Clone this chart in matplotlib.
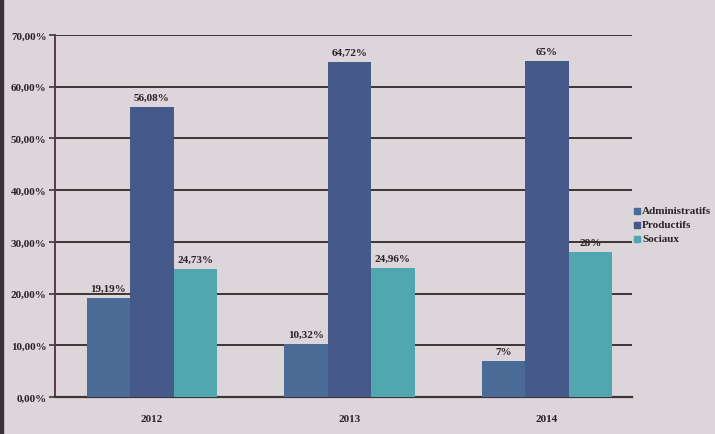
import numpy as np
import matplotlib
matplotlib.use('Agg')
import matplotlib.pyplot as plt
from matplotlib.patches import Rectangle

annees = ['2012', '2013', '2014']
series = ['Administratifs', 'Productifs', 'Sociaux']
administratifs = [19.19, 10.32, 7.0]
productifs = [56.08, 64.72, 65.0]
sociaux = [24.73, 24.96, 28.0]
etiquettes = [
    ['19,19%', '10,32%', '7%'],
    ['56,08%', '64,72%', '65%'],
    ['24,73%', '24,96%', '28%'],
]
yticks = [0, 10, 20, 30, 40, 50, 60, 70]
yticklabels = ['0,00%', '10,00%', '20,00%', '30,00%', '40,00%', '50,00%', '60,00%', '70,00%']

couleurs = ['#4b6b97', '#45598b', '#50a7b0']
fond = '#dcd5da'
trait = '#3e3438'
texte = '#2a2226'

plt.rcParams['font.family'] = ['Liberation Serif', 'DejaVu Serif']

fig = plt.figure(figsize=(7.15, 4.35), dpi=100)
fig.patch.set_facecolor(fond)
ax = fig.add_axes([55 / 715, 1 - 398 / 435, (632 - 55) / 715, (398 - 36) / 435])
ax.set_facecolor(fond)

x = np.arange(len(annees))
larg = 0.22
valeurs = [administratifs, productifs, sociaux]
for i, (vals, c) in enumerate(zip(valeurs, couleurs)):
    pos = x + (i - 1) * larg
    ax.bar(pos, vals, width=larg, color=c, label=series[i], zorder=3)
    for p, v, t in zip(pos, vals, etiquettes[i]):
        ax.text(p, v + 1.0, t, ha='center', va='bottom', fontsize=8,
                fontweight='bold', color=texte, zorder=4)

ax.set_xlim(-0.49, 2.43)
ax.set_ylim(0, 70)
ax.set_yticks(yticks)
ax.set_yticklabels(yticklabels, fontsize=8, fontweight='bold', color=texte)
ax.set_xticks(x)
ax.set_xticklabels(annees, fontsize=8, fontweight='bold', color=texte)
ax.tick_params(axis='x', length=0, pad=12)
ax.tick_params(axis='y', length=4, width=1.2, color=trait, pad=2)
ax.grid(axis='y', color=trait, linewidth=1.4, zorder=1)
for s in ['top', 'right']:
    ax.spines[s].set_visible(False)
ax.spines['left'].set_color('#5a3a48')
ax.spines['left'].set_linewidth(1.4)
ax.spines['bottom'].set_color(trait)
ax.spines['bottom'].set_linewidth(1.6)

# legende a droite
yl = [212, 226, 240]
for nom, c, yy in zip(series, couleurs, yl):
    fig.patches.append(Rectangle((634 / 715, 1 - (yy + 3) / 435), 6 / 715, 6 / 435,
                                 transform=fig.transFigure, color=c))
    fig.text(642 / 715, 1 - yy / 435, nom, fontsize=8, fontweight='bold',
             color=texte, va='center', ha='left')

# bord sombre a gauche de la photo
fig.patches.append(Rectangle((0, 0), 3 / 715, 1, transform=fig.transFigure, color='#3a3236'))

fig.savefig('out.png', dpi=100, facecolor=fond)
